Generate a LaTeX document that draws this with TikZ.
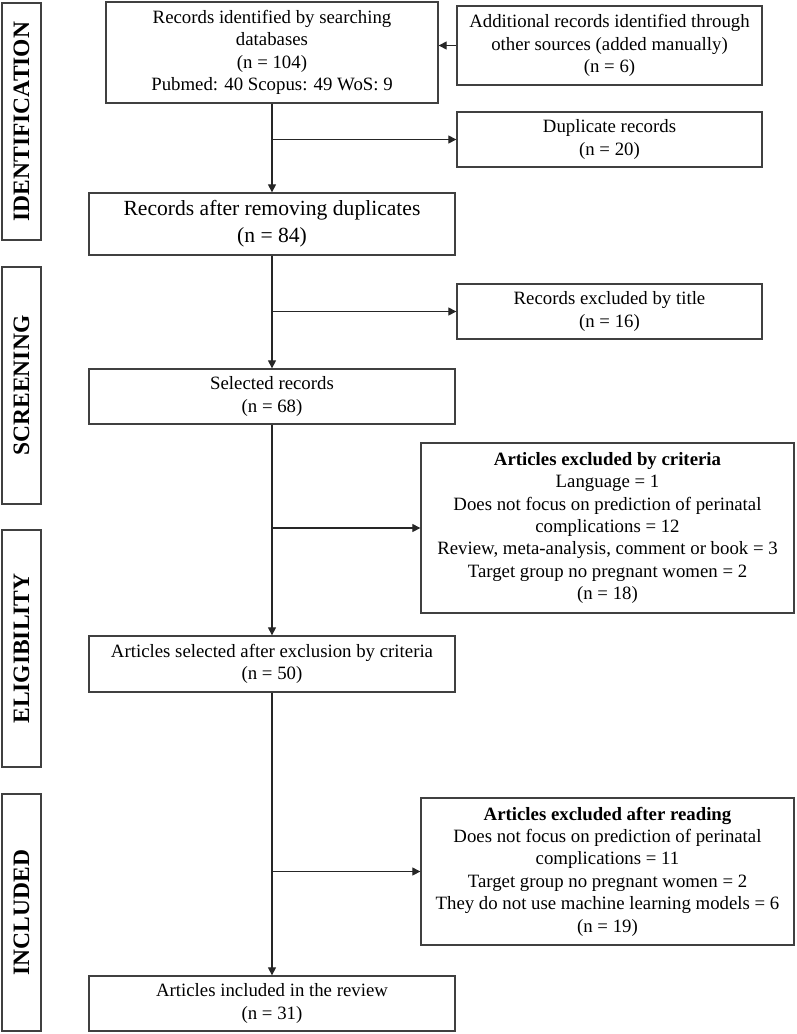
\documentclass[tikz,border=0pt]{standalone}
\usepackage{fontspec}
\setmainfont{Liberation Serif}
\usetikzlibrary{arrows.meta}
\begin{document}
\begin{tikzpicture}[x=1pt,y=-1pt,
    box/.style={draw=black!75,line width=1.3pt,align=center,inner sep=0pt,
        font=\fontsize{18.8}{22.4}\selectfont},
    phase/.style={draw=black!75,line width=1.3pt,inner sep=0pt,rotate=90,
        minimum width=237pt,minimum height=39pt,font=\fontsize{23.5}{28}\selectfont\bfseries},
    arr/.style={-{Triangle[length=8pt,width=8pt]},line width=1.1pt,draw=black!85}]
    \useasboundingbox (0,0) rectangle (796,1034);
    % stage labels
    \node[phase] (ident) at (21.5,121.5) {IDENTIFICATION};
    \node[phase] (screen) at (21.5,385.5) {SCREENING};
    \node[phase] (elig) at (21.5,648.5) {ELIGIBILITY};
    \node[phase] (incl) at (21.5,912.5) {INCLUDED};
    % main column
    \node[box,minimum width=332pt,minimum height=101pt] (search) at (272,52.5)
        {Records identified by searching\\ databases\\ (n = 104)\\ Pubmed: 40 Scopus: 49 WoS: 9};
    \node[box,minimum width=366pt,minimum height=62pt,font=\fontsize{21.6}{27}\selectfont] (nodup) at (272,224)
        {Records after removing duplicates\\ (n = 84)};
    \node[box,minimum width=366pt,minimum height=55pt] (selected) at (272,396.5)
        {Selected records\\ (n = 68)};
    \node[box,minimum width=366pt,minimum height=56pt] (afterc) at (272,664)
        {Articles selected after exclusion by criteria\\ (n = 50)};
    \node[box,minimum width=366pt,minimum height=55pt] (review) at (272,1003.5)
        {Articles included in the review\\ (n = 31)};
    % side boxes
    \node[box,minimum width=305pt,minimum height=79pt] (manual) at (609.5,45.5)
        {Additional records identified through\\ other sources (added manually)\\ (n = 6)};
    \node[box,minimum width=305pt,minimum height=55pt] (dupl) at (609.5,139.5)
        {Duplicate records\\ (n = 20)};
    \node[box,minimum width=305pt,minimum height=55pt] (title) at (609.5,311.5)
        {Records excluded by title\\ (n = 16)};
    \node[box,minimum width=373pt,minimum height=170pt] (criteria) at (607.5,528)
        {\textbf{Articles excluded by criteria}\\ Language = 1\\ Does not focus on prediction of perinatal\\
        complications = 12\\ Review, meta-analysis, comment or book = 3\\ Target group no pregnant women = 2\\ (n = 18)};
    \node[box,minimum width=373pt,minimum height=147pt] (reading) at (607.5,871.5)
        {\textbf{Articles excluded after reading}\\ Does not focus on prediction of perinatal\\ complications = 11\\
        Target group no pregnant women = 2\\ They do not use machine learning models = 6\\ (n = 19)};
    % connectors
    \draw[arr] (search) -- (nodup);
    \draw[arr] (nodup) -- (selected);
    \draw[arr] (selected) -- (afterc);
    \draw[arr] (afterc) -- (review);
    \draw[arr] (manual.west) -- (manual.west -| search.east);
    \draw[arr] (dupl.west -| search.south) -- (dupl.west);
    \draw[arr] (title.west -| nodup.south) -- (title.west);
    \draw[arr] (criteria.west -| selected.south) -- (criteria.west);
    \draw[arr] (reading.west -| afterc.south) -- (reading.west);
\end{tikzpicture}
\end{document}
